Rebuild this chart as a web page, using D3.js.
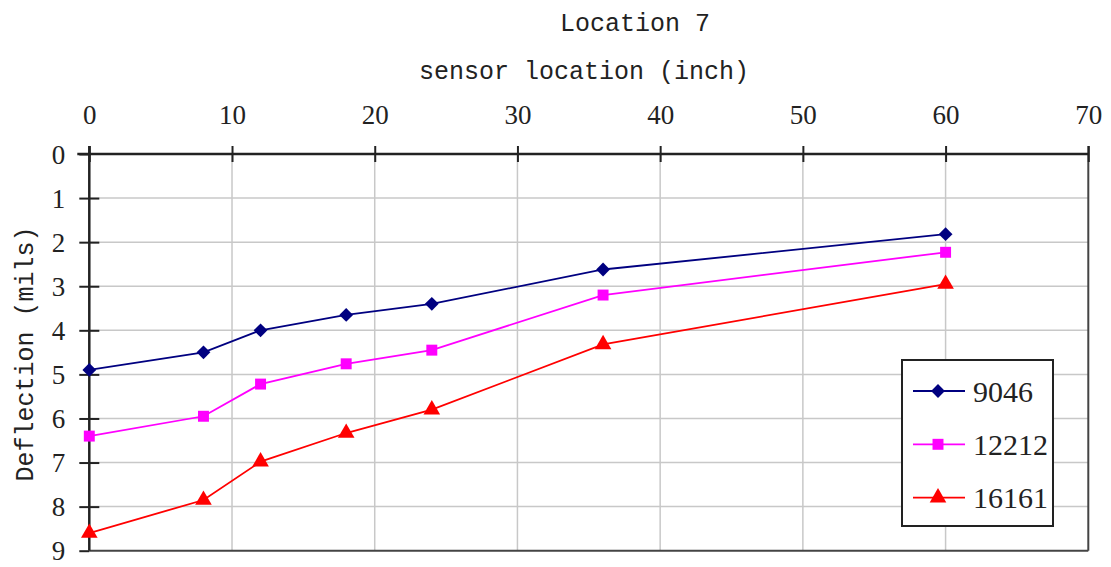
<!DOCTYPE html>
<html><head><meta charset="utf-8">
<script src="https://cdn.jsdelivr.net/npm/d3@7"></script>
<style>body{margin:0;background:#fff;}svg{display:block;}</style>
</head><body>
<svg id="c" width="1111" height="567"></svg>
<script>
const sensorX = [0, 8, 12, 18, 24, 36, 60];
const s9046 = [4.9, 4.5, 4.0, 3.65, 3.4, 2.62, 1.82];
const s12212 = [6.4, 5.95, 5.22, 4.76, 4.45, 3.2, 2.23];
const s16161 = [8.6, 7.85, 6.98, 6.33, 5.8, 4.32, 2.95];
const seriesNames = ["9046", "12212", "16161"];
const xTicks = [0, 10, 20, 30, 40, 50, 60, 70];
const yTicks = [0, 1, 2, 3, 4, 5, 6, 7, 8, 9];

const svg = d3.select("#c");
const L = 89.3, R = 1088.3, T = 154, B = 550.7;
const x = d3.scaleLinear().domain([0, 70]).range([L, R]);
const y = d3.scaleLinear().domain([0, 9]).range([T, B]);

// gridlines
const g = svg.append("g");
g.selectAll(".vg").data(xTicks.filter(d => d > 0 && d < 70)).join("line")
  .attr("x1", d => x(d)).attr("x2", d => x(d)).attr("y1", T).attr("y2", B)
  .attr("stroke", "#c8c8c8").attr("stroke-width", 1.5);
g.selectAll(".hg").data(yTicks.filter(d => d > 0 && d < 9)).join("line")
  .attr("x1", L).attr("x2", R).attr("y1", d => y(d)).attr("y2", d => y(d))
  .attr("stroke", "#c8c8c8").attr("stroke-width", 1.5);
// right and bottom border
svg.append("line").attr("x1", R).attr("x2", R).attr("y1", T - 8).attr("y2", B)
  .attr("stroke", "#444").attr("stroke-width", 2);
svg.append("line").attr("x1", L).attr("x2", R).attr("y1", B).attr("y2", B)
  .attr("stroke", "#444").attr("stroke-width", 2);

// top axis
const xa = svg.append("g").attr("transform", `translate(0,${T})`)
  .call(d3.axisTop(x).tickValues(xTicks).tickSize(8).tickPadding(22).tickSizeOuter(0));
xa.select(".domain").attr("stroke", "#222").attr("stroke-width", 2.5)
  .attr("d", `M${L - 12},0H${R}`);
xa.selectAll(".tick line").attr("y1", -8).attr("y2", 8).attr("stroke", "#222").attr("stroke-width", 2);
xa.selectAll(".tick text").attr("font-family", "Liberation Serif").attr("font-size", 27)
  .attr("fill", "#222");

// left axis
const ya = svg.append("g").attr("transform", `translate(${L},0)`)
  .call(d3.axisLeft(y).tickValues(yTicks).tickSize(10).tickPadding(14).tickSizeOuter(0));
ya.select(".domain").attr("stroke", "#222").attr("stroke-width", 2.5)
  .attr("d", `M0,${T - 8}V${B}`);
ya.selectAll(".tick line").attr("x1", -10).attr("x2", 10).attr("stroke", "#222").attr("stroke-width", 2);
ya.selectAll(".tick").filter(d => d === 0 || d === 9).select("line").attr("x2", 0);
ya.selectAll(".tick text").attr("font-family", "Liberation Serif").attr("font-size", 27)
  .attr("fill", "#222").attr("dy", "0.34em");

// titles
svg.append("text").attr("x", 635).attr("y", 31).attr("text-anchor", "middle")
  .attr("font-family", "Liberation Mono").attr("font-size", 25).attr("fill", "#222").text("Location 7");
svg.append("text").attr("x", 584).attr("y", 79).attr("text-anchor", "middle")
  .attr("font-family", "Liberation Mono").attr("font-size", 25).attr("fill", "#222").text("sensor location (inch)");
svg.append("text").attr("transform", "translate(33,354) rotate(-90)").attr("text-anchor", "middle")
  .attr("font-family", "Liberation Mono").attr("font-size", 25).attr("fill", "#222").text("Deflection (mils)");

// series
const series = [
  {name: seriesNames[0], vals: s9046, color: "#000080", sym: d3.symbolSquare, size: 95, rot: 45},
  {name: seriesNames[1], vals: s12212, color: "#ff00ff", sym: d3.symbolSquare, size: 120, rot: 0},
  {name: seriesNames[2], vals: s16161, color: "#ff0000", sym: d3.symbolTriangle, size: 120, rot: 0}
];
const line = d3.line().x((d, i) => x(sensorX[i])).y(d => y(d));
series.forEach(s => {
  svg.append("path").attr("d", line(s.vals)).attr("fill", "none")
    .attr("stroke", s.color).attr("stroke-width", 1.8);
  svg.selectAll(null).data(s.vals).join("path")
    .attr("d", d3.symbol().type(s.sym).size(s.size))
    .attr("transform", (d, i) => `translate(${x(sensorX[i])},${y(d)}) rotate(${s.rot})`)
    .attr("fill", s.color);
});

// legend
const lg = svg.append("g");
lg.append("rect").attr("x", 902).attr("y", 360).attr("width", 151).attr("height", 166)
  .attr("fill", "#fff").attr("stroke", "#222").attr("stroke-width", 2);
series.forEach((s, i) => {
  const ly = 391 + i * 53.3;
  lg.append("line").attr("x1", 913).attr("x2", 965).attr("y1", ly).attr("y2", ly)
    .attr("stroke", s.color).attr("stroke-width", 1.8);
  lg.append("path").attr("d", d3.symbol().type(s.sym).size(s.size))
    .attr("transform", `translate(938,${ly}) rotate(${s.rot})`).attr("fill", s.color);
  lg.append("text").attr("x", 973).attr("y", ly).attr("dy", "0.35em")
    .attr("font-family", "Liberation Serif").attr("font-size", 30).attr("fill", "#222").text(s.name);
});
</script>
</body></html>
